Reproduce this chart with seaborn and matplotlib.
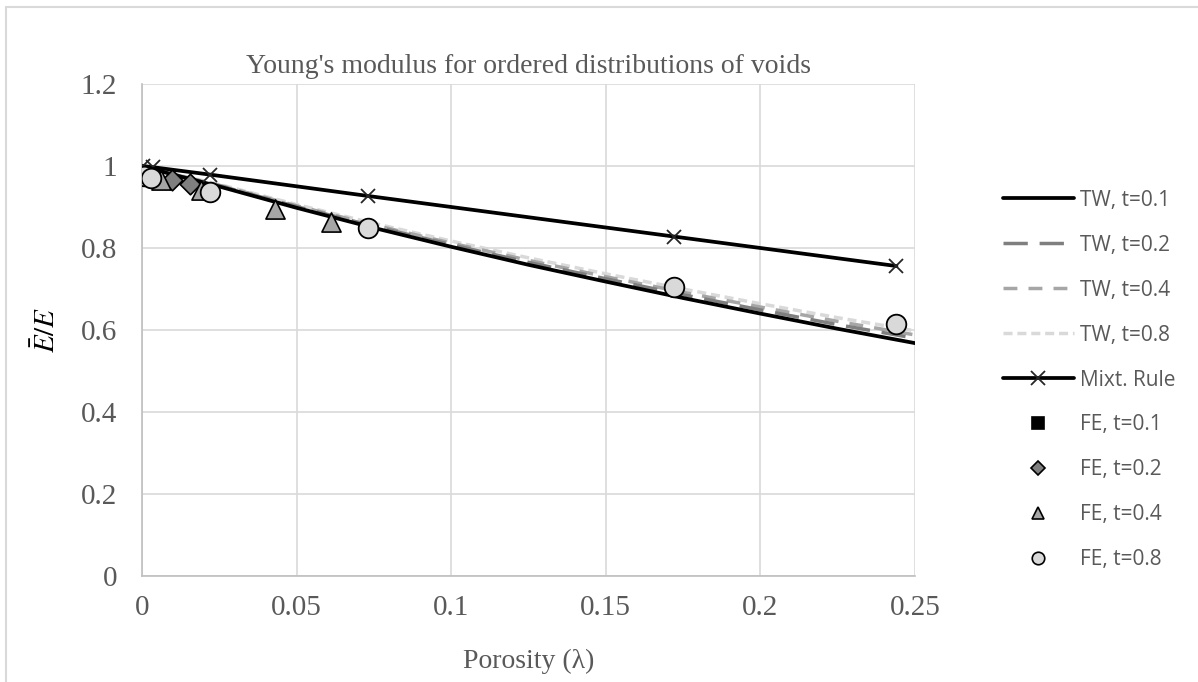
import numpy as np
import pandas as pd
import matplotlib
matplotlib.use("Agg")
import matplotlib.pyplot as plt
from matplotlib.lines import Line2D
import seaborn as sns

# theoretical (TW) curves
lam_tw = [0, 0.01, 0.025, 0.05, 0.075, 0.1, 0.125, 0.15, 0.175, 0.2, 0.225, 0.25]
tw_01 = [1.0, 0.979, 0.950, 0.898, 0.849, 0.803, 0.759, 0.718, 0.678, 0.640, 0.603, 0.568]
tw_02 = [1.0, 0.980, 0.952, 0.901, 0.853, 0.808, 0.765, 0.725, 0.686, 0.649, 0.613, 0.580]
tw_04 = [1.0, 0.980, 0.953, 0.903, 0.856, 0.812, 0.770, 0.730, 0.692, 0.656, 0.621, 0.588]
tw_08 = [1.0, 0.981, 0.955, 0.906, 0.860, 0.817, 0.776, 0.737, 0.700, 0.664, 0.630, 0.598]

# mixture rule
lam_mix = [0.0003, 0.0036, 0.022, 0.073, 0.172, 0.244]
mix = [1.0, 0.997, 0.979, 0.927, 0.828, 0.756]

# FE results
lam_fe01 = [0.0, 0.0015]
fe01 = [0.975, 0.974]
lam_fe02 = [0.0097, 0.0155]
fe02 = [0.966, 0.957]
lam_fe04 = [0.006, 0.019, 0.043, 0.061]
fe04 = [0.965, 0.941, 0.895, 0.863]
lam_fe08 = [0.0005, 0.003, 0.022, 0.073, 0.172, 0.244]
fe08 = [0.975, 0.970, 0.937, 0.848, 0.706, 0.615]

sns.set_theme(style="white")
plt.rcParams["font.family"] = ["Liberation Serif", "DejaVu Serif"]
plt.rcParams["mathtext.fontset"] = "stix"

W, H = 1198, 682
fig = plt.figure(figsize=(W / 100, H / 100), dpi=100)
ax = fig.add_axes([142 / W, 1 - 576 / H, (915 - 142) / W, (576 - 84) / H])

# figure border (top and left visible)
fig.add_artist(Line2D([6 / W, 1], [1 - 6.5 / H] * 2, color="#d9d9d9", lw=1.5, transform=fig.transFigure))
fig.add_artist(Line2D([6 / W] * 2, [0, 1 - 6.5 / H], color="#d9d9d9", lw=1.5, transform=fig.transFigure))

tw = pd.DataFrame({"lam": lam_tw, "t01": tw_01, "t02": tw_02, "t04": tw_04, "t08": tw_08})
sns.lineplot(data=tw, x="lam", y="t08", ax=ax, color="#d9d9d9", lw=2.5,
             linestyle=(0, (2.6, 1.4)), label="TW, t=0.8", zorder=2)
sns.lineplot(data=tw, x="lam", y="t04", ax=ax, color="#a6a6a6", lw=2.5,
             linestyle=(0, (4, 3.2)), label="TW, t=0.4", zorder=2)
sns.lineplot(data=tw, x="lam", y="t02", ax=ax, color="#7f7f7f", lw=2.5,
             linestyle=(0, (7, 3.4)), label="TW, t=0.2", zorder=2)
sns.lineplot(data=tw, x="lam", y="t01", ax=ax, color="black", lw=2.7, label="TW, t=0.1", zorder=3)

sns.lineplot(x=lam_mix, y=mix, ax=ax, color="black", lw=2.7, marker="x", markersize=10,
             markeredgewidth=1.3, markeredgecolor="#262626", label="Mixt. Rule", zorder=3)

sns.scatterplot(x=lam_fe01, y=fe01, ax=ax, marker="s", s=150, color="black",
                edgecolor="black", linewidth=1.2, label="FE, t=0.1", zorder=4)
sns.scatterplot(x=lam_fe02, y=fe02, ax=ax, marker="D", s=110, color="#7f7f7f",
                edgecolor="black", linewidth=1.2, label="FE, t=0.2", zorder=4)
sns.scatterplot(x=lam_fe04, y=fe04, ax=ax, marker="^", s=190, color="#a6a6a6",
                edgecolor="black", linewidth=1.2, label="FE, t=0.4", zorder=4)
sns.scatterplot(x=lam_fe08, y=fe08, ax=ax, marker="o", s=200, color="#d9d9d9",
                edgecolor="black", linewidth=1.3, label="FE, t=0.8", zorder=5)

ax.set_xlim(0, 0.25)
ax.set_ylim(0, 1.2)
ax.set_xticks([0, 0.05, 0.1, 0.15, 0.2, 0.25])
ax.set_xticklabels(["0", "0.05", "0.1", "0.15", "0.2", "0.25"])
ax.set_yticks([0, 0.2, 0.4, 0.6, 0.8, 1.0, 1.2])
ax.set_yticklabels(["0", "0.2", "0.4", "0.6", "0.8", "1", "1.2"])
ax.tick_params(axis="both", labelsize=21, colors="#595959", length=0)
ax.tick_params(axis="x", pad=14)
ax.tick_params(axis="y", pad=18)
ax.grid(True, color="#d9d9d9", lw=1.2)
for side in ["top", "right"]:
    ax.spines[side].set_visible(False)
for side in ["left", "bottom"]:
    ax.spines[side].set_color("#bfbfbf")
    ax.spines[side].set_linewidth(1.2)

ax.set_xlabel("Porosity (λ)", fontsize=20, color="#595959")
ax.xaxis.set_label_coords(0.5, (H - 661 - 106) / 492)
ax.xaxis.label.set_va("center")
ax.set_ylabel(r"$\bar{E}/E$", fontsize=21, color="black")
ax.yaxis.set_label_coords((47 - 142) / 773, 0.5)
ax.yaxis.label.set_va("center")
ax.set_title("Young's modulus for ordered distributions of voids", fontsize=20,
             color="#595959", pad=8)

# legend in Excel order
handles, labels = ax.get_legend_handles_labels()
order = ["TW, t=0.1", "TW, t=0.2", "TW, t=0.4", "TW, t=0.8", "Mixt. Rule",
         "FE, t=0.1", "FE, t=0.2", "FE, t=0.4", "FE, t=0.8"]
hmap = dict(zip(labels, handles))
small = {"FE, t=0.1": ("s", "black", 9), "FE, t=0.2": ("D", "#7f7f7f", 7),
         "FE, t=0.4": ("^", "#a6a6a6", 9), "FE, t=0.8": ("o", "#d9d9d9", 9)}
leg_handles = []
for lab in order:
    if lab in small:
        m, c, ms = small[lab]
        leg_handles.append(Line2D([], [], ls="none", marker=m, markersize=ms,
                                  markerfacecolor=c, markeredgecolor="black", markeredgewidth=1.2))
    else:
        leg_handles.append(hmap[lab])
leg = ax.legend(leg_handles, order, loc="center left", bbox_to_anchor=((984 - 142) / 773, (576 - 380) / 492),
                frameon=False, handlelength=3.4, labelspacing=1.15, handletextpad=0.3,
                prop={"family": ["Open Sans", "DejaVu Sans"], "size": 15})
for txt in leg.get_texts():
    txt.set_color("#595959")

fig.savefig("out.png", dpi=100)
